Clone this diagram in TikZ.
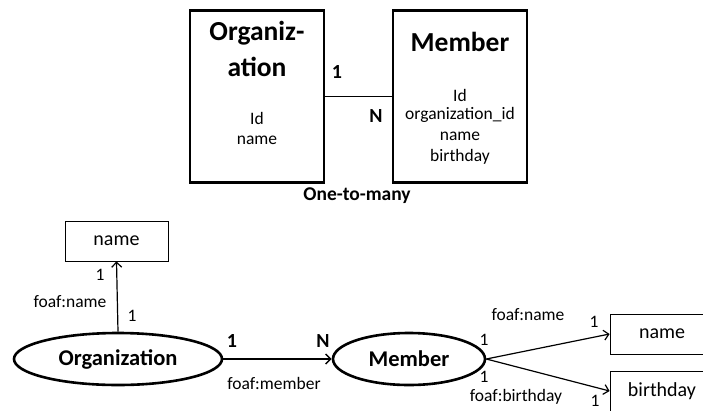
\documentclass[tikz,border=0pt]{standalone}
\usepackage{fontspec}
\setmainfont{Carlito}
\usetikzlibrary{shapes.geometric}
\usetikzlibrary{positioning}
\usetikzlibrary{arrows.meta}

\begin{document}
\begin{tikzpicture}[x=1pt,y=-1pt]
	\tikzset{
		tblnode/.style={rectangle, draw=black, line width=2.6pt, minimum width=134pt, minimum height=172pt, inner sep=0pt},
		tbltitle/.style={font=\fontsize{27.5}{29}\selectfont\bfseries, inner sep=0pt},
		tblfield/.style={font=\fontsize{17.5}{19}\selectfont, inner sep=0pt},
		cardnode/.style={font=\fontsize{20}{22}\selectfont\bfseries, inner sep=0pt},
		classnode/.style={ellipse, draw=black, line width=2.6pt, inner sep=0pt, font=\fontsize{22.5}{24}\selectfont\bfseries},
		valnode/.style={rectangle, draw=black, line width=0.8pt, minimum height=40pt, inner sep=0pt, font=\fontsize{20}{22}\selectfont},
		lbl/.style={font=\fontsize{17.5}{19}\selectfont, inner sep=0pt},
	}
	\useasboundingbox (0,0) rectangle (703,410);
	\clip (0,0) rectangle (703,410);

	% relational view
	\node[tblnode] (orgtbl) at (257,96.5) {};
	\node[tblnode] (memtbl) at (460,96.5) {};
	\node[tbltitle] (orgtitle) at (257,33) {Organiz-};
	\node[tbltitle] (orgtitleb) at (257,67) {ation};
	\node[tblfield] (orgid) at (257,118) {Id};
	\node[tblfield] (orgname) at (257,140) {name};
	\node[tbltitle] (memtitle) at (460,42) {Member};
	\node[tblfield] (memid) at (460,95) {Id};
	\node[tblfield] (memorg) at (460,115) {organization\_id};
	\node[tblfield] (memname) at (460,136) {name};
	\node[tblfield] (membday) at (460,157) {birthday};

	\draw[line width=1.4pt] (orgtbl.east) -- (memtbl.west);
	\node[cardnode] (topone) at (337,72) {1};
	\node[cardnode] (topn) at (376,116) {N};
	\node[cardnode, font=\fontsize{19.5}{21}\selectfont\bfseries] (caption) at (357,196) {One-to-many};

	% RDF view
	\node[classnode, minimum width=208pt, minimum height=52pt] (org) at (118,359) {Organization};
	\node[classnode, minimum width=152pt, minimum height=52pt] (mem) at (409,359) {Member};
	\node[valnode, minimum width=103pt] (orgval) at (116.5,241) {name};
	\node[valnode, minimum width=104pt] (memval) at (662,334) {name};
	\node[valnode, minimum width=104pt] (bdayval) at (662,391) {birthday};

	\draw[-{Straight Barb[length=5pt,width=10pt]}, line width=1.2pt] (org.north) -- (orgval.south);
	\draw[-{Straight Barb[length=5pt,width=10pt]}, line width=1.4pt] (org.east) -- (mem.west);
	\draw[-{Straight Barb[length=5pt,width=10pt]}, line width=1.2pt] (mem.east) -- (memval.west);
	\draw[-{Straight Barb[length=5pt,width=10pt]}, line width=1.2pt] (mem.east) -- (bdayval.west);

	\node[lbl] (l1) at (100,275) {1};
	\node[lbl] (l2) at (70,302) {foaf:name};
	\node[lbl] (l3) at (132,316) {1};
	\node[cardnode] (l4) at (232,341) {1};
	\node[cardnode] (l5) at (323,341) {N};
	\node[lbl] (l6) at (274,383) {foaf:member};
	\node[lbl] (l7) at (528,315) {foaf:name};
	\node[lbl] (l8) at (594,322) {1};
	\node[lbl] (l9) at (484,340) {1};
	\node[lbl] (l10) at (484,377) {1};
	\node[lbl] (l11) at (516,397) {foaf:birthday};
	\node[lbl] (l12) at (595,401) {1};
\end{tikzpicture}
\end{document}
